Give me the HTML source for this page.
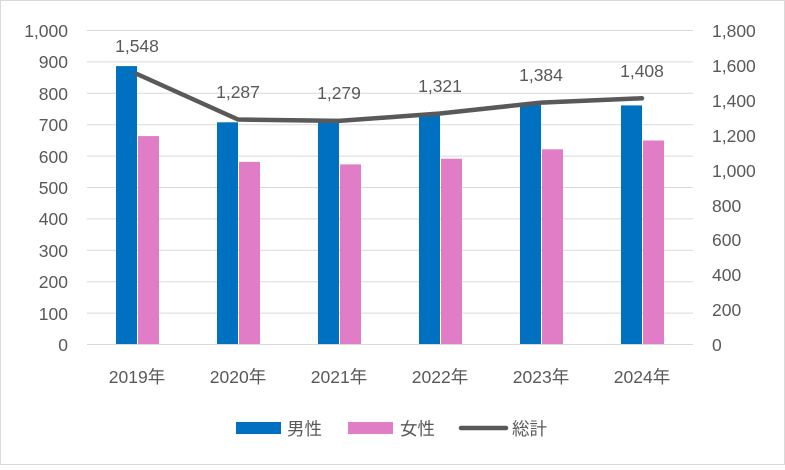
<!DOCTYPE html>
<html><head><meta charset="utf-8"><style>
html,body{margin:0;padding:0;background:#fff}
svg text{font-family:"Liberation Sans","Noto Sans CJK JP",sans-serif;fill:#595959}
</style></head><body>
<svg width="785" height="465" viewBox="0 0 785 465" xmlns="http://www.w3.org/2000/svg">
<rect x="0.5" y="0.5" width="784" height="464" fill="#fff" stroke="#d9d9d9"/>
<g stroke="#d9d9d9" stroke-width="1">
<line x1="87" x2="693" y1="30.5" y2="30.5"/><line x1="87" x2="693" y1="61.9" y2="61.9"/>
<line x1="87" x2="693" y1="93.3" y2="93.3"/><line x1="87" x2="693" y1="124.7" y2="124.7"/>
<line x1="87" x2="693" y1="156.1" y2="156.1"/><line x1="87" x2="693" y1="187.5" y2="187.5"/>
<line x1="87" x2="693" y1="218.9" y2="218.9"/><line x1="87" x2="693" y1="250.3" y2="250.3"/>
<line x1="87" x2="693" y1="281.7" y2="281.7"/><line x1="87" x2="693" y1="313.1" y2="313.1"/>
<line x1="87" x2="693" y1="344.5" y2="344.5"/>
</g>
<g font-size="17.5" text-anchor="end">
<text x="68" y="37">1,000</text><text x="68" y="68">900</text><text x="68" y="100">800</text>
<text x="68" y="131">700</text><text x="68" y="163">600</text><text x="68" y="194">500</text>
<text x="68" y="225">400</text><text x="68" y="257">300</text><text x="68" y="288">200</text>
<text x="68" y="320">100</text><text x="68" y="351">0</text>
</g>
<g font-size="17.5" text-anchor="start">
<text x="712" y="37">1,800</text><text x="712" y="72">1,600</text><text x="712" y="107">1,400</text>
<text x="712" y="142">1,200</text><text x="712" y="177">1,000</text><text x="712" y="212">800</text>
<text x="712" y="246">600</text><text x="712" y="281">400</text><text x="712" y="316">200</text>
<text x="712" y="351">0</text>
</g>
<g fill="#0070C0">
<rect x="116" y="66.1" width="21" height="277.9"/>
<rect x="217" y="122.3" width="21" height="221.7"/>
<rect x="318" y="122" width="21" height="222"/>
<rect x="419" y="114.5" width="21" height="229.5"/>
<rect x="520" y="104.1" width="21" height="239.9"/>
<rect x="621" y="105.4" width="21" height="238.6"/>
</g>
<g fill="#E17CC7">
<rect x="138" y="136.1" width="21" height="207.9"/>
<rect x="239" y="161.9" width="21" height="182.1"/>
<rect x="340" y="164.4" width="21" height="179.6"/>
<rect x="441" y="158.7" width="21" height="185.3"/>
<rect x="542" y="149.3" width="21" height="194.7"/>
<rect x="643" y="140.5" width="21" height="203.5"/>
</g>
<polyline fill="none" stroke="#595959" stroke-width="4.5" stroke-linejoin="round" stroke-linecap="round"
 points="137,74 238,119.5 339,120.9 440,113.5 541,102.6 642,98.3"/>
<g font-size="17.5" text-anchor="middle" style="fill:#404040">
<text x="137" y="52">1,548</text><text x="238" y="98">1,287</text><text x="339" y="99">1,279</text>
<text x="440" y="92">1,321</text><text x="541" y="81">1,384</text><text x="642" y="77">1,408</text>
</g>
<g font-size="17.5" text-anchor="middle">
<text x="137" y="383">2019年</text><text x="238" y="383">2020年</text><text x="339" y="383">2021年</text>
<text x="440" y="383">2022年</text><text x="541" y="383">2023年</text><text x="642" y="383">2024年</text>
</g>
<rect x="236" y="422" width="45" height="12" fill="#0070C0"/>
<text x="287" y="435" font-size="17.5">男性</text>
<rect x="348" y="422" width="45" height="12" fill="#E17CC7"/>
<text x="400" y="435" font-size="17.5">女性</text>
<line x1="461" x2="506" y1="428" y2="428" stroke="#595959" stroke-width="4.5" stroke-linecap="round"/>
<text x="512" y="435" font-size="17.5">総計</text>
</svg>
</body></html>
